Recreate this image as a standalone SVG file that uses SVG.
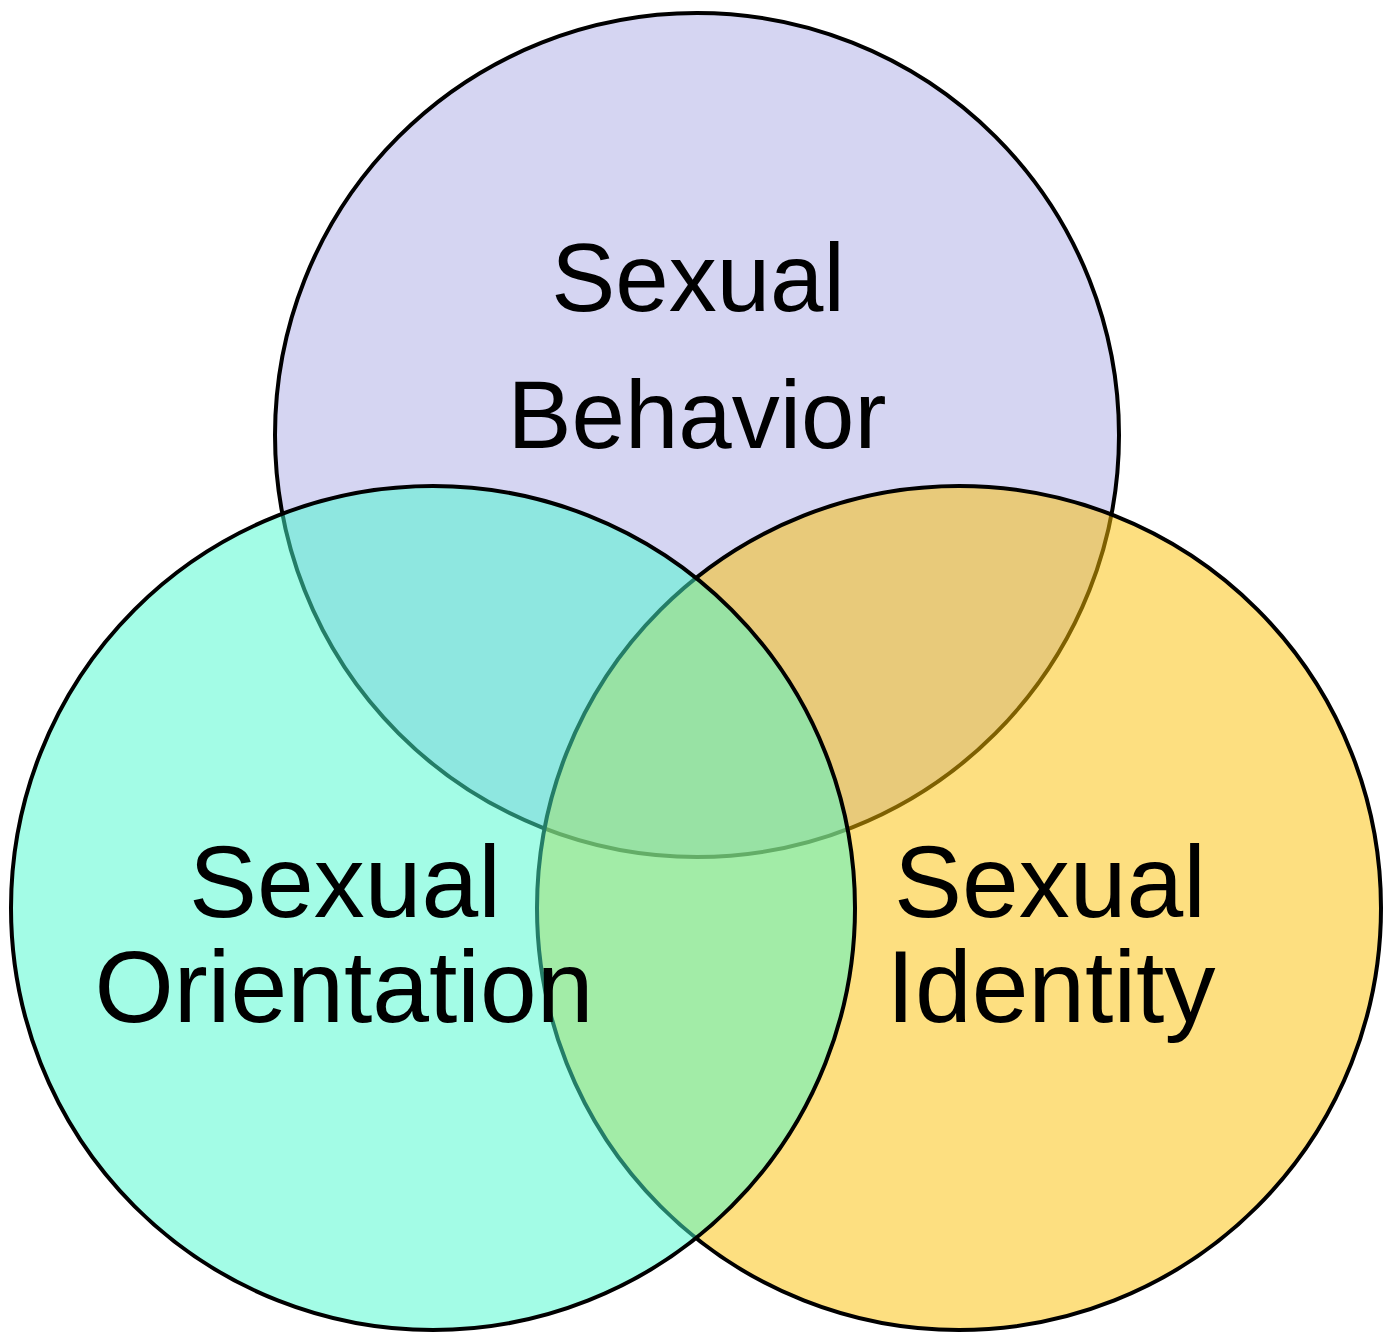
<svg xmlns="http://www.w3.org/2000/svg" width="1384" height="1333" viewBox="0 0 1384 1333">
<style>
.c{stroke:#000;stroke-width:4}
.t{font-family:"Liberation Sans",Arial,sans-serif;fill:#000;text-anchor:middle}
.s{font-size:96px}
.l{font-size:102px}
</style>
<rect width="1384" height="1333" fill="#fff"/>
<g id="behavior">
<circle class="c" cx="697" cy="435" r="422" fill="#d5d5f2"/>
</g>
<g id="identity">
<circle class="c" cx="959" cy="908" r="422" fill="#fbbf01" fill-opacity="0.5"/>
</g>
<g id="orientation">
<circle class="c" cx="433" cy="908" r="422" fill="#47f9cd" fill-opacity="0.5"/>
</g>
<g id="labels">
<text class="t s" x="698" y="311">Sexual</text>
<text class="t s" x="697" y="448">Behavior</text>
<text class="t l" x="345" y="917">Sexual</text>
<text class="t l" x="344" y="1022">Orientation</text>
<text class="t l" x="1050" y="917">Sexual</text>
<text class="t l" x="1051" y="1022">Identity</text>
</g>
</svg>
